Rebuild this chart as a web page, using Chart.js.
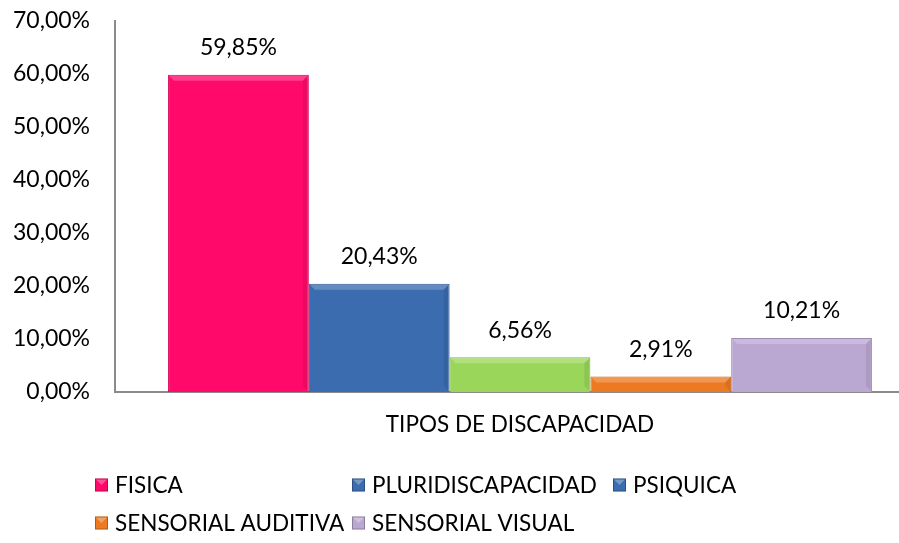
<!DOCTYPE html>
<html>
<head>
<meta charset="utf-8">
<script src="https://cdn.jsdelivr.net/npm/chart.js@4/dist/chart.umd.min.js"></script>
<style>
html, body { margin: 0; padding: 0; background: #fff; overflow: hidden; width: 899px; height: 543px; }
canvas { display: block; }
</style>
</head>
<body>
<canvas id="c" width="935" height="543"></canvas>
<script>
// ---- data ----
const categories = ['TIPOS DE DISCAPACIDAD'];
const seriesNames = ['FISICA', 'PLURIDISCAPACIDAD', 'PSIQUICA', 'SENSORIAL AUDITIVA', 'SENSORIAL VISUAL'];
const seriesValues = [59.85, 20.43, 6.56, 2.91, 10.21];
const yMin = 0, yMax = 70, yStep = 10;

// ---- styles ----
const barColors = ['#FF0A6A', '#3A6CAF', '#9AD65A', '#EC7A22', '#BBA8D2'];
const barBorders = ['#D80055', '#2E5A92', '#7FB843', '#C9620F', '#9C8BB5'];
const legendColors = ['#FF0A6A', '#3A6CAF', '#3A6CAF', '#EC7A22', '#BBA8D2'];
const FONT = 'Lato, "Liberation Sans", sans-serif';
const fmt = v => v.toFixed(2).replace('.', ',') + '%';

const datasets = seriesNames.map((name, i) => ({
  label: name,
  data: [seriesValues[i]],
  backgroundColor: barColors[i],
  borderColor: barBorders[i],
  borderWidth: 1,
  barPercentage: 1,
  categoryPercentage: 0.869
}));

// subtle bevel on bars, using the library's bar element geometry
const bevel = {
  id: 'bevel',
  afterDatasetsDraw(chart) {
    const ctx = chart.ctx;
    ctx.save();
    chart.data.datasets.forEach((ds, i) => {
      const el = chart.getDatasetMeta(i).data[0];
      const l = el.x - el.width / 2, r = el.x + el.width / 2, t = el.y, b = el.base;
      const d = Math.min(5, (b - t) / 2);
      ctx.fillStyle = 'rgba(255,255,255,0.22)';
      ctx.beginPath();
      ctx.moveTo(l + 1, t + 1); ctx.lineTo(r - 1, t + 1); ctx.lineTo(r - 1 - d, t + 1 + d); ctx.lineTo(l + 1 + d, t + 1 + d); ctx.closePath();
      ctx.fill();
      ctx.fillStyle = 'rgba(0,0,0,0.08)';
      ctx.beginPath();
      ctx.moveTo(r - 1, t + 1); ctx.lineTo(r - 1, b - 1); ctx.lineTo(r - 1 - d, b - 1 - d); ctx.lineTo(r - 1 - d, t + 1 + d); ctx.closePath();
      ctx.fill();
    });
    ctx.restore();
  }
};

const valueLabels = {
  id: 'valueLabels',
  afterDatasetsDraw(chart) {
    const ctx = chart.ctx;
    ctx.save();
    ctx.font = '23px ' + FONT;
    ctx.fillStyle = '#000';
    ctx.textAlign = 'center';
    ctx.textBaseline = 'middle';
    chart.data.datasets.forEach((ds, i) => {
      const el = chart.getDatasetMeta(i).data[0];
      ctx.fillText(fmt(ds.data[0]), el.x, el.y - 27);
    });
    ctx.restore();
  }
};

const gridLegend = {
  id: 'gridLegend',
  afterDraw(chart) {
    const ctx = chart.ctx;
    const cols = [95, 352, 613];
    const rows = [485, 523];
    const perRow = 3;
    ctx.save();
    ctx.font = '22.5px ' + FONT;
    ctx.textBaseline = 'middle';
    ctx.textAlign = 'left';
    chart.data.datasets.forEach((ds, i) => {
      const x = cols[i % perRow];
      const y = rows[Math.floor(i / perRow)];
      ctx.fillStyle = legendColors[i];
      ctx.fillRect(x, y - 6.5, 13, 13);
      ctx.strokeStyle = 'rgba(0,0,0,0.25)';
      ctx.lineWidth = 1;
      ctx.strokeRect(x + 0.5, y - 6, 12, 12);
      ctx.fillStyle = 'rgba(255,255,255,0.3)';
      ctx.beginPath(); ctx.moveTo(x + 1, y - 5.5); ctx.lineTo(x + 12, y - 5.5); ctx.lineTo(x + 6.5, y); ctx.closePath(); ctx.fill();
      ctx.fillStyle = '#000';
      ctx.fillText(ds.label, x + 20, y + 1);
    });
    ctx.restore();
  }
};

new Chart(document.getElementById('c'), {
  type: 'bar',
  data: { labels: categories, datasets },
  options: {
    responsive: false,
    animation: false,
    layout: { padding: { top: 21, right: 10, bottom: 0, left: 0 } },
    plugins: { legend: { display: false }, tooltip: { enabled: false } },
    scales: {
      x: {
        grid: { display: false, drawTicks: false },
        border: { display: true, color: '#8A8A8A', width: 2 },
        ticks: { color: '#000', font: { family: FONT, size: 22.5 }, padding: 19 },
        afterFit(s) { s.height = 151; }
      },
      y: {
        min: yMin, max: yMax,
        grid: { display: false, drawTicks: false },
        border: { display: true, color: '#8A8A8A', width: 2 },
        ticks: {
          stepSize: yStep, color: '#000', padding: 25,
          font: { family: FONT, size: 23 },
          callback: v => fmt(v)
        },
        afterFit(s) { s.width = 115; s.paddingTop = 0; s.paddingBottom = 0; }
      }
    }
  },
  plugins: [bevel, valueLabels, gridLegend]
});
</script>
</body>
</html>
